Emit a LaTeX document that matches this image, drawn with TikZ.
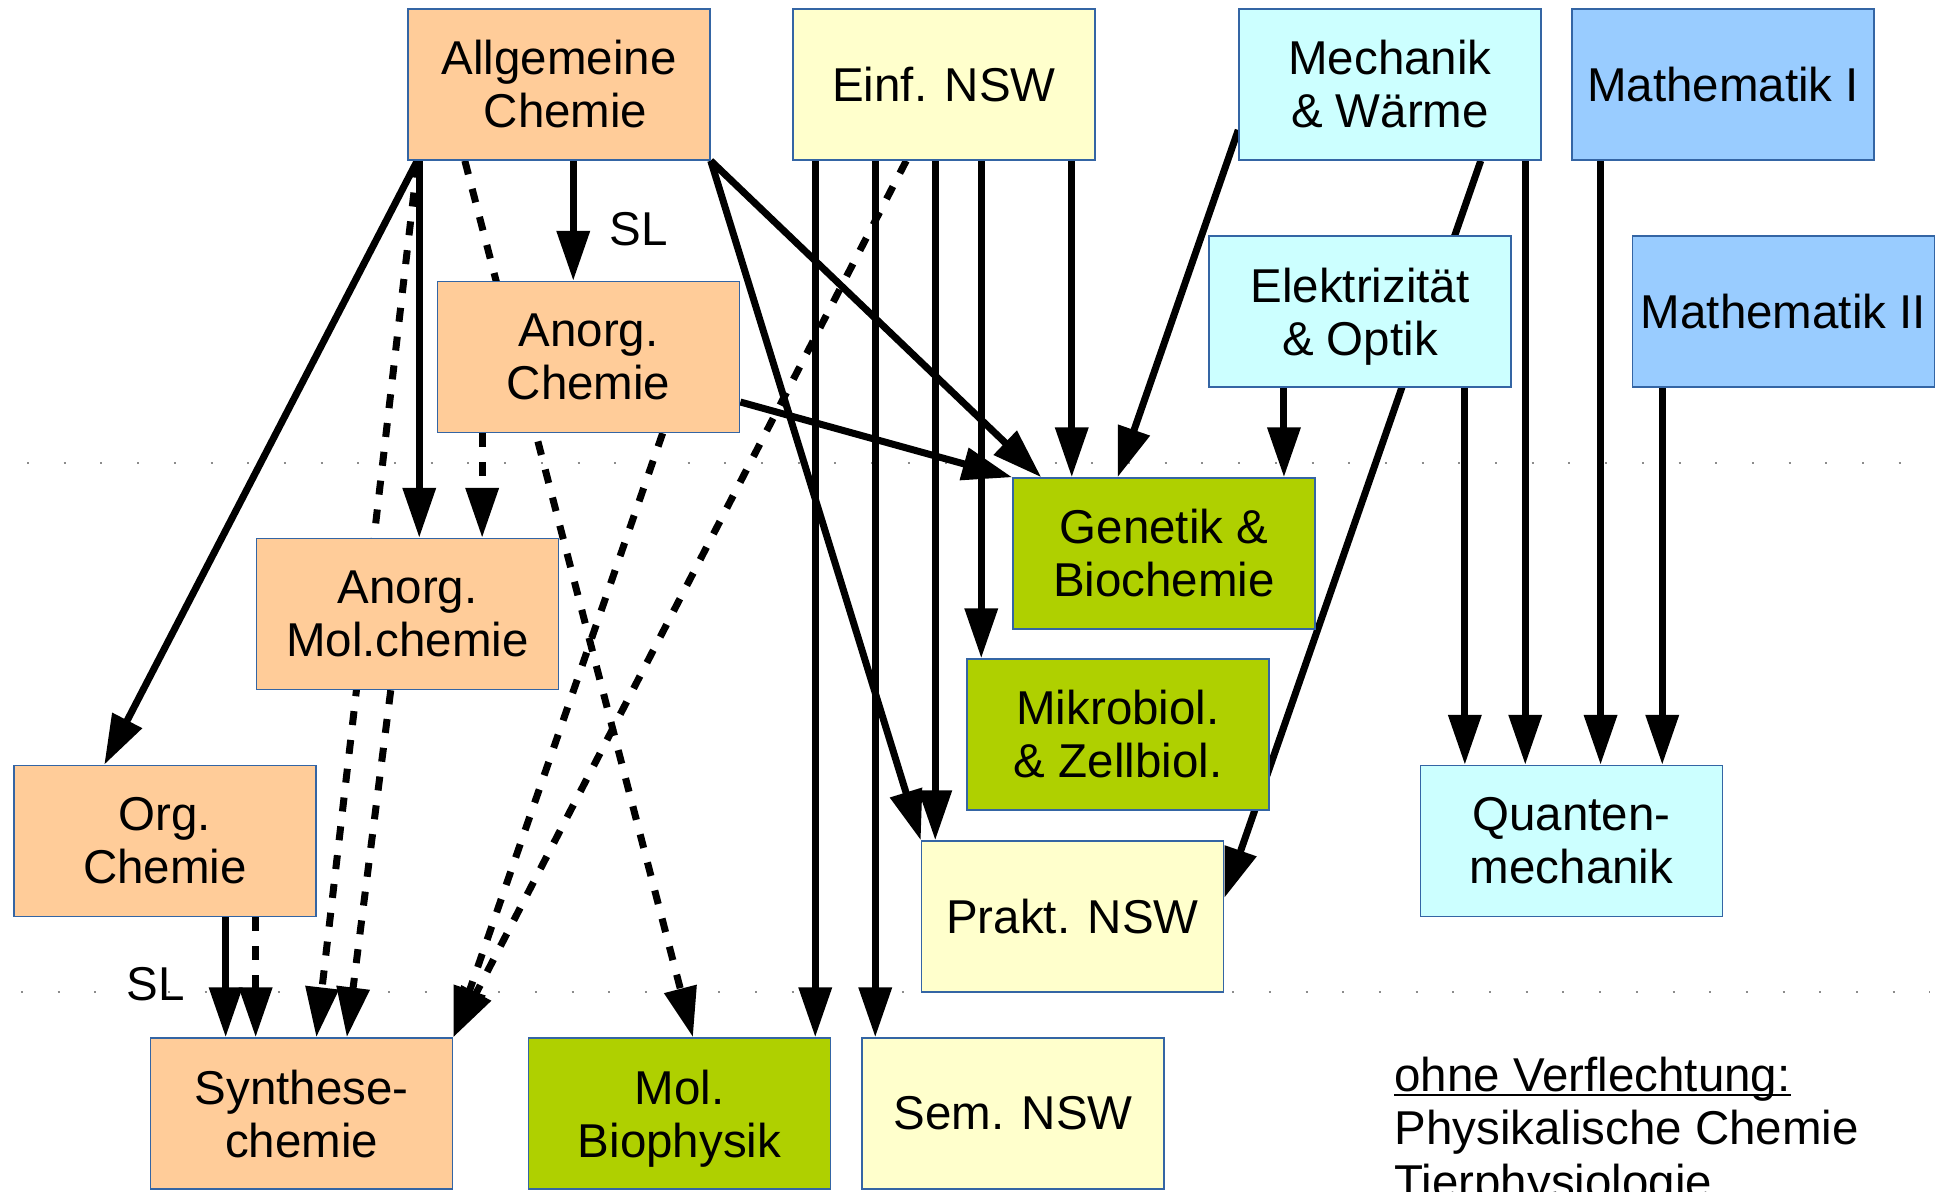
\documentclass[tikz,border=0pt]{standalone}
\usepackage{fontspec}
\setmainfont{Liberation Sans}
\usetikzlibrary{arrows.meta,calc,backgrounds}
\definecolor{orng}{HTML}{FFCC99}
\definecolor{ylw}{HTML}{FFFFCC}
\definecolor{cyn}{HTML}{CCFFFF}
\definecolor{blu}{HTML}{99CCFF}
\definecolor{grn}{HTML}{AFD000}
\definecolor{bordc}{HTML}{3465A4}
\definecolor{dotc}{HTML}{8C8C8C}
\begin{document}
\begin{tikzpicture}[x=0.5pt,y=-0.5pt,
  box/.style={draw=bordc, line width=0.75pt, minimum width=151pt, minimum height=75.5pt,
    inner sep=0pt, align=center, font=\fontsize{23.75pt}{26.5pt}\selectfont},
  lbl/.style={inner sep=0pt, font=\fontsize{23.75pt}{26.5pt}\selectfont},
  conn/.style={line width=3.5pt, -{Triangle[length=25pt,width=16pt]}},
  dsh/.style={conn, dash pattern=on 7pt off 7.5pt},
  dotline/.style={dotc, line width=1pt, dash pattern=on 1pt off 17.35pt}]
\useasboundingbox (0,0) rectangle (1939,1191);
\clip (0,0) rectangle (1939,1191);

% nodes
\node[box, fill=orng] (AC) at (559,84.5) {Allgemeine\\\hspace*{.278em}Chemie};
\node[box, fill=ylw] (EN) at (944,84.5) {Einf. NSW};
\node[box, fill=cyn] (MW) at (1390,84.5) {Mechanik\\\& Wärme};
\node[box, fill=blu] (M1) at (1723,84.5) {Mathematik I};
\node[box, fill=cyn] (EO) at (1360,311.5) {Elektrizität\\\smash{\& Optik}};
\node[box, fill=blu] (M2) at (1783.5,311.5) {Mathematik II};
\node[box, fill=orng] (ACh) at (588.6,357) {Anorg.\\Chemie};
\node[box, fill=orng] (AMC) at (407.5,614) {Anorg.\\Mol.chemie};
\node[box, fill=orng] (OC) at (165,841) {Org.\\Chemie};
\node[box, fill=orng] (SC) at (301.6,1113.5) {Synthese-\\chemie};
\node[box, fill=grn] (MB) at (679.5,1113.5) {Mol.\\\smash{Biophysik}};
\node[box, fill=ylw] (SN) at (1013,1113.5) {Sem. NSW};
\node[box, fill=grn] (GB) at (1164,553.5) {Genetik \&\\Biochemie};
\node[box, fill=grn] (MZ) at (1118,734.5) {Mikrobiol.\\\& Zellbiol.};
\node[box, fill=ylw] (PN) at (1072.5,916.5) {Prakt. NSW};
\node[box, fill=cyn] (QM) at (1571.5,841) {Quanten-\\mechanik};

% labels
\node[lbl, anchor=base west] (sl1) at (609,245) {SL};
\node[lbl, anchor=base west] (sl2) at (126,1000) {SL};
\node[lbl, anchor=base west] (t1) at (1394,1091) {ohne Verflechtung:};
\draw[line width=1.25pt] ($(t1.base west)+(0,4)$) -- ($(t1.base east)+(0,4)$);
\node[lbl, anchor=base west] (t2) at (1394,1144.5) {Physikalische Chemie};
\node[lbl, anchor=base west] (t3) at (1394,1198) {Tierphysiologie};

\begin{scope}[on background layer]
\fill[white] (0,0) rectangle (1939,1191);
\coordinate (d1a) at (27,462.7);
\coordinate (d1b) at (1930,462.7);
\coordinate (d2a) at (21,991.8);
\coordinate (d2b) at (1930,991.8);
\draw[dotline] (d1a) -- (d1b);
\draw[dotline] (d2a) -- (d2b);

% from Allgemeine Chemie
\draw[conn] ($(AC.south west)+(10,0)$) -- ($(OC.north west)+(91,0)$);
\draw[conn] ($(AC.south west)+(12,0)$) coordinate (a2) -- (a2 |- AMC.north);
\draw[dsh] ($(AC.south west)+(10,3)$) -- ($(SC.north west)+(166.5,0)$);
\draw[dsh] ($(AC.south west)+(57.6,0)$) -- ($(MB.north west)+(165.2,0)$);
\draw[conn] ($(AC.south west)+(166,0)$) coordinate (a5) -- (a5 |- ACh.north);
\draw[conn] (AC.south east) -- (PN.north west);
\draw[conn] (AC.south east) -- ($(GB.north west)+(29,0)$);

% from Einf. NSW
\draw[conn] ($(EN.south west)+(23,0)$) coordinate (e1) -- (e1 |- MB.north);
\draw[conn] ($(EN.south west)+(83,0)$) coordinate (e2) -- (e2 |- SN.north);
\draw[dsh] ($(EN.south west)+(114,0)$) -- (SC.north east);
\draw[conn] ($(EN.south west)+(143,0)$) coordinate (e4) -- (e4 |- PN.north);
\draw[conn] ($(EN.south west)+(189,0)$) coordinate (e5) -- (e5 |- MZ.north);
\draw[conn] ($(EN.south west)+(279.5,0)$) coordinate (e6) -- (e6 |- GB.north);

% from Anorg. Chemie
\draw[conn] ($(ACh.east)+(0,45)$) -- (GB.north west);
\draw[dsh] ($(ACh.south west)+(45.3,0)$) coordinate (c2) -- (c2 |- AMC.north);
\draw[dsh] ($(ACh.south west)+(225.8,0)$) -- (SC.north east);

% from Anorg. Mol.chemie
\draw[dsh] ($(AMC.south west)+(135,0)$) -- ($(SC.north west)+(197,0)$);

% from Org. Chemie
\draw[conn] ($(OC.south west)+(212.4,0)$) coordinate (o1) -- (o1 |- SC.north);
\draw[dsh] ($(OC.south west)+(242.4,0)$) coordinate (o2) -- (o2 |- SC.north);

% from Mechanik & Waerme
\draw[conn] ($(MW.west)+(0,45.5)$) -- ($(GB.north west)+(105.4,0)$);
\draw[conn] ($(MW.south west)+(242.5,0)$) -- ($(PN.east)+(0,-18.5)$);
\draw[conn] ($(MW.south west)+(287,0)$) coordinate (w3) -- (w3 |- QM.north);

% from Elektrizitaet & Optik
\draw[conn] ($(EO.south west)+(75.7,0)$) coordinate (o3) -- (o3 |- GB.north);
\draw[conn] ($(EO.south west)+(256.6,0)$) coordinate (o4) -- (o4 |- QM.north);

% from Mathematik
\draw[conn] ($(M1.south west)+(29.3,0)$) coordinate (m1) -- (m1 |- QM.north);
\draw[conn] ($(M2.south west)+(30.5,0)$) coordinate (m2) -- (m2 |- QM.north);
\end{scope}
\end{tikzpicture}
\end{document}
